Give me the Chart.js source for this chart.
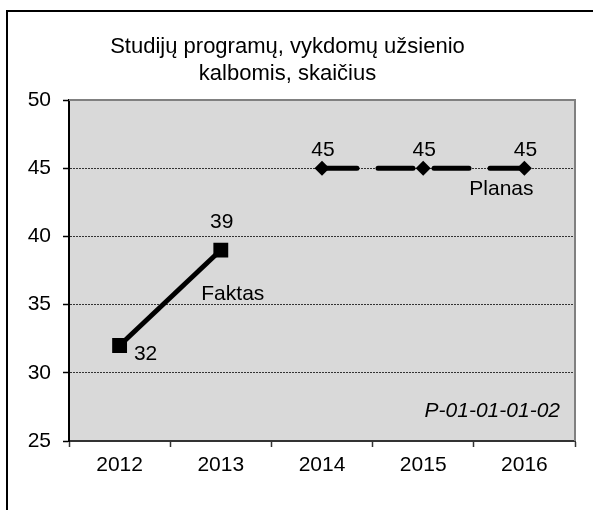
<!DOCTYPE html>
<html>
<head>
<meta charset="utf-8">
<script src="https://cdn.jsdelivr.net/npm/chart.js@4"></script>
<style>
  body { margin: 0; background: #fff; }
  #wrap { position: relative; width: 593px; height: 510px; overflow: hidden; }
  #frame { position: absolute; left: 6px; top: 10px; width: 700px; height: 600px;
           border-left: 2px solid #000; border-top: 2px solid #000; }
  canvas { position: absolute; left: 0; top: 0; }
</style>
</head>
<body>
<div id="wrap">
  <div id="frame"></div>
  <canvas id="chart" width="593" height="510"></canvas>
</div>
<script>
const years = ['2012', '2013', '2014', '2015', '2016'];
const faktas = [32, 39, null, null, null];
const planas = [null, null, 45, 45, 45];
const yTicks = [25, 30, 35, 40, 45, 50];
const titleLines = ['Studijų programų, vykdomų užsienio', 'kalbomis, skaičius'];
const seriesNames = ['Faktas', 'Planas'];
const codeText = 'P-01-01-01-02';

const FONT = '"Liberation Sans", Arial, sans-serif';
Chart.defaults.font.family = FONT;
Chart.defaults.font.size = 21;
Chart.defaults.color = '#000';

// grey plot area + grey top/right frame
const plotArea = {
  id: 'plotArea',
  beforeDraw(chart) {
    const { ctx, chartArea: a } = chart;
    ctx.save();
    ctx.fillStyle = '#d9d9d9';
    ctx.fillRect(a.left, a.top, a.right - a.left, a.bottom - a.top);
    ctx.restore();
  },
  beforeDatasetsDraw(chart) {
    const { ctx, chartArea: a } = chart;
    ctx.save();
    ctx.strokeStyle = '#808080';
    ctx.lineWidth = 2;
    ctx.beginPath();
    ctx.moveTo(a.left, a.top);
    ctx.lineTo(a.right, a.top);
    ctx.lineTo(a.right, a.bottom);
    ctx.stroke();
    ctx.restore();
  }
};

// value labels, series names and the code text
const labels = {
  id: 'labels',
  afterDatasetsDraw(chart) {
    const { ctx, chartArea: a } = chart;
    ctx.save();
    ctx.fillStyle = '#000';
    ctx.font = '21px ' + FONT;
    ctx.textAlign = 'center';
    ctx.textBaseline = 'middle';

    const f = chart.getDatasetMeta(0).data;
    const p = chart.getDatasetMeta(1).data;

    faktas.forEach((v, i) => {
      if (v === null) return;
      const pt = f[i];
      if (i === 0) ctx.fillText(v, pt.x + 26, pt.y + 9);
      else ctx.fillText(v, pt.x + 1, pt.y - 28);
    });
    planas.forEach((v, i) => {
      if (v === null) return;
      const pt = p[i];
      ctx.fillText(v, pt.x + 1, pt.y - 18);
    });

    const lastF = f[1];
    ctx.fillText(seriesNames[0], lastF.x + 12, lastF.y + 44);
    const lastP = p[4];
    ctx.fillText(seriesNames[1], lastP.x - 23, lastP.y + 21);

    ctx.font = 'italic 21px ' + FONT;
    ctx.textAlign = 'right';
    ctx.fillText(codeText, a.right - 15, a.bottom - 29.5);
    ctx.restore();
  }
};

new Chart(document.getElementById('chart'), {
  type: 'line',
  data: {
    labels: years,
    datasets: [
      {
        label: seriesNames[0],
        data: faktas,
        borderColor: '#000',
        borderWidth: 5,
        pointStyle: 'rect',
        pointRadius: 10.5,
        pointBackgroundColor: '#000',
        pointBorderWidth: 0,
        spanGaps: false
      },
      {
        label: seriesNames[1],
        data: planas,
        borderColor: '#000',
        borderWidth: 5,
        borderDash: [35, 21],
        borderCapStyle: 'round',
        pointStyle: 'rectRot',
        pointRadius: 7.5,
        pointBackgroundColor: '#000',
        pointBorderWidth: 0,
        spanGaps: false
      }
    ]
  },
  options: {
    responsive: false,
    animation: false,
    devicePixelRatio: 1,
    layout: { padding: { left: 0, right: 18, top: 0, bottom: 0 } },
    plugins: {
      legend: { display: false },
      tooltip: { enabled: false },
      title: {
        display: true,
        text: titleLines,
        color: '#000',
        font: { size: 22, weight: 'normal', lineHeight: 1.23 },
        padding: { top: 33.5, bottom: 12.4 }
      }
    },
    scales: {
      x: {
        offset: true,
        afterFit: (s) => { s.height = 69; },
        grid: {
          offset: true,
          drawOnChartArea: false,
          tickLength: 6,
          tickColor: '#333',
          tickWidth: 1.5
        },
        border: { color: '#333', width: 2 },
        ticks: { padding: 6, color: '#000' }
      },
      y: {
        min: 25,
        max: 50,
        afterFit: (s) => { s.width = 69; },
        afterBuildTicks: (s) => { s.ticks = yTicks.map((v) => ({ value: v })); },
        grid: {
          color: (c) => (c.tick && (c.tick.value === 25 || c.tick.value === 50)) ? 'rgba(0,0,0,0)' : '#333',
          lineWidth: 1,
          tickLength: 6,
          tickColor: '#000',
          tickWidth: 1.5
        },
        border: { color: '#000', width: 2, dash: [2, 1] },
        ticks: { padding: 12, color: '#000' }
      }
    }
  },
  plugins: [plotArea, labels]
});
</script>
</body>
</html>
